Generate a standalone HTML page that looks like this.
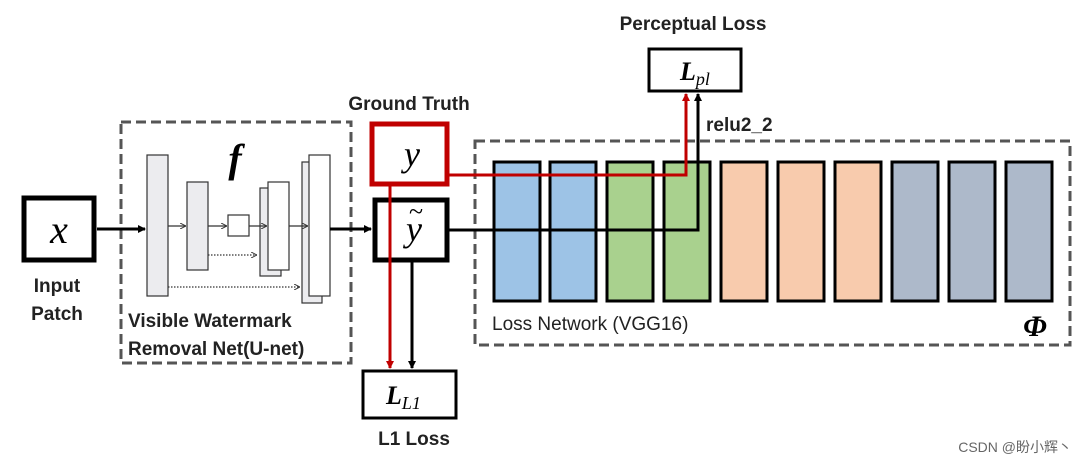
<!DOCTYPE html>
<html><head><style>
body{margin:0;background:#fff;width:1080px;height:466px;overflow:hidden;font-family:"Liberation Sans",sans-serif}
</style></head><body>
<svg width="1080" height="466" xmlns="http://www.w3.org/2000/svg">
<defs>
<marker id="ab" markerWidth="8" markerHeight="8" refX="7" refY="4" orient="auto" markerUnits="userSpaceOnUse"><path d="M0,0 L8,4 L0,8 z" fill="#000"/></marker>
<marker id="ar" markerWidth="8" markerHeight="8" refX="7" refY="4" orient="auto" markerUnits="userSpaceOnUse"><path d="M0,0 L8,4 L0,8 z" fill="#c00000"/></marker>
<marker id="as" markerWidth="6" markerHeight="6" refX="6" refY="3" orient="auto" markerUnits="userSpaceOnUse"><path d="M0,0 L6,3 L0,6" fill="none" stroke="#333" stroke-width="1"/></marker>
</defs>
<!-- dashed boxes -->
<rect x="121" y="122" width="230" height="241" fill="none" stroke="#555" stroke-width="3" stroke-dasharray="10,5"/>
<rect x="475" y="141" width="595" height="204" fill="none" stroke="#555" stroke-width="3" stroke-dasharray="10,5"/>
<!-- x box -->
<rect x="24" y="198" width="70" height="62" fill="#fff" stroke="#000" stroke-width="5"/>
<text x="59" y="243" font-family="Liberation Serif,serif" font-style="italic" font-size="40" text-anchor="middle">x</text>
<text x="57" y="292" font-size="19" font-weight="bold" text-anchor="middle" fill="#222">Input</text>
<text x="57" y="320" font-size="19" font-weight="bold" text-anchor="middle" fill="#222">Patch</text>
<line x1="97" y1="229" x2="145" y2="229" stroke="#000" stroke-width="3" marker-end="url(#ab)"/>
<!-- unet -->
<g stroke="#333" stroke-width="1.2">
<rect x="147" y="155" width="21" height="141" fill="#ececef"/>
<rect x="187" y="182" width="21" height="88" fill="#ececef"/>
<rect x="228" y="215" width="21" height="21" fill="#fff"/>
<rect x="260" y="188" width="21" height="88" fill="#ececef"/>
<rect x="268" y="182" width="21" height="88" fill="#fff"/>
<rect x="302" y="162" width="20" height="141" fill="#ececef"/>
<rect x="309" y="155" width="21" height="141" fill="#fff"/>
<line x1="168" y1="226" x2="186" y2="226" marker-end="url(#as)"/>
<line x1="208" y1="226" x2="227" y2="226" marker-end="url(#as)"/>
<line x1="249" y1="226" x2="267" y2="226" marker-end="url(#as)"/>
<line x1="289" y1="226" x2="308" y2="226" marker-end="url(#as)"/>
<line x1="208" y1="255" x2="257" y2="255" stroke-dasharray="1.5,1.5" marker-end="url(#as)"/>
<line x1="168" y1="287" x2="300" y2="287" stroke-dasharray="1.5,1.5" marker-end="url(#as)"/>
</g>
<text x="235" y="172" font-family="Liberation Serif,serif" font-style="italic" font-weight="bold" font-size="40" text-anchor="middle">f</text>
<text x="128" y="327" font-size="19" font-weight="bold" fill="#222">Visible Watermark</text>
<text x="128" y="355" font-size="19" font-weight="bold" fill="#222">Removal Net(U-net)</text>
<line x1="330" y1="229" x2="371" y2="229" stroke="#000" stroke-width="3" marker-end="url(#ab)"/>
<!-- y boxes -->
<text x="409" y="110" font-size="19" font-weight="bold" text-anchor="middle" fill="#222">Ground Truth</text>
<rect x="372" y="124" width="75" height="60" fill="#fff" stroke="#c00000" stroke-width="5"/>
<text x="412" y="166" font-family="Liberation Serif,serif" font-style="italic" font-size="36" text-anchor="middle">y</text>
<rect x="375" y="200" width="72" height="60" fill="#fff" stroke="#000" stroke-width="5"/>
<text x="414" y="241" font-family="Liberation Serif,serif" font-style="italic" font-size="36" text-anchor="middle">y</text>
<text x="416" y="220" font-family="Liberation Serif,serif" font-size="26" text-anchor="middle">~</text>
<!-- vgg bars -->
<g stroke="#000" stroke-width="3">
<rect x="494" y="162" width="46" height="139" fill="#9dc3e6"/>
<rect x="550" y="162" width="46" height="139" fill="#9dc3e6"/>
<rect x="607" y="162" width="46" height="139" fill="#a9d18e"/>
<rect x="664" y="162" width="46" height="139" fill="#a9d18e"/>
<rect x="721" y="162" width="46" height="139" fill="#f8cbad"/>
<rect x="778" y="162" width="46" height="139" fill="#f8cbad"/>
<rect x="835" y="162" width="46" height="139" fill="#f8cbad"/>
<rect x="892" y="162" width="46" height="139" fill="#adb9ca"/>
<rect x="949" y="162" width="46" height="139" fill="#adb9ca"/>
<rect x="1006" y="162" width="46" height="139" fill="#adb9ca"/>
</g>
<!-- lines -->
<polyline points="447,230 698,230 698,94" fill="none" stroke="#000" stroke-width="3" marker-end="url(#ab)"/>
<polyline points="449,175 686,175 686,94" fill="none" stroke="#c00000" stroke-width="3" marker-end="url(#ar)"/>
<line x1="390" y1="186" x2="390" y2="368" stroke="#c00000" stroke-width="3" marker-end="url(#ar)"/>
<line x1="412" y1="262" x2="412" y2="368" stroke="#000" stroke-width="3" marker-end="url(#ab)"/>
<!-- loss boxes -->
<text x="693" y="30" font-size="19" font-weight="bold" text-anchor="middle" fill="#222">Perceptual Loss</text>
<rect x="649" y="49" width="92" height="42" fill="#fff" stroke="#000" stroke-width="3"/>
<text x="680" y="80" font-family="Liberation Serif,serif" font-style="italic" font-weight="bold" font-size="26">L<tspan font-size="18" font-weight="normal" dy="5">pl</tspan></text>
<text x="706" y="131" font-size="19" font-weight="bold" fill="#222">relu2_2</text>
<rect x="363" y="371" width="93" height="47" fill="#fff" stroke="#000" stroke-width="3"/>
<text x="386" y="404" font-family="Liberation Serif,serif" font-style="italic" font-weight="bold" font-size="26">L<tspan font-size="18" font-weight="normal" dy="5">L1</tspan></text>
<text x="414" y="445" font-size="19" font-weight="bold" text-anchor="middle" fill="#222">L1 Loss</text>
<text x="492" y="330" font-size="19" fill="#222">Loss Network (VGG16)</text>
<text x="1035" y="336" font-family="Liberation Serif,serif" font-style="italic" font-weight="bold" font-size="30" text-anchor="middle">Φ</text>
<text x="1072" y="452" font-family="Liberation Sans,Noto Sans CJK SC,sans-serif" font-size="14" text-anchor="end" fill="#666">CSDN @盼小辉丶</text>
</svg>
</body></html>
